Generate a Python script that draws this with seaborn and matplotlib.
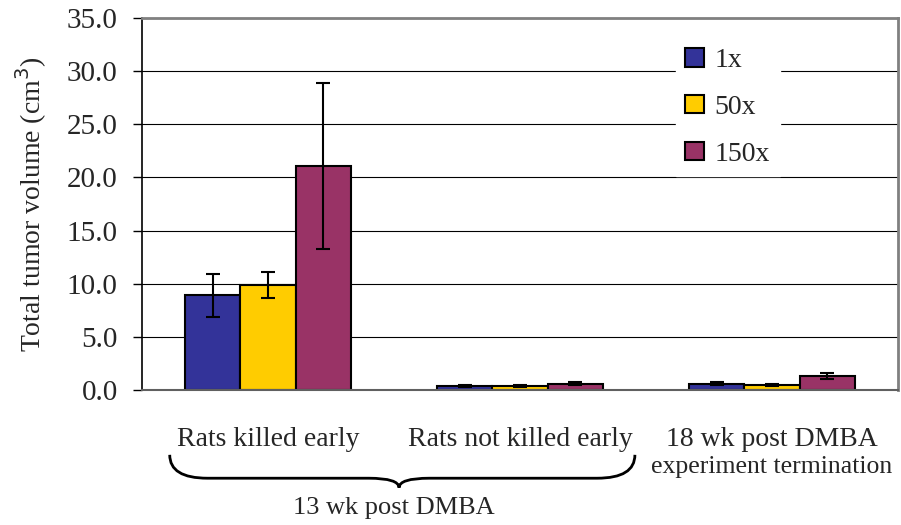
import matplotlib
matplotlib.use("Agg")
import matplotlib.pyplot as plt
import seaborn as sns
import pandas as pd
import numpy as np
from matplotlib.path import Path
from matplotlib.patches import PathPatch

categories = ["Rats killed early", "Rats not killed early", "18 wk post DMBA"]
doses = ["1x", "50x", "150x"]
vol_1x = [8.9, 0.4, 0.6]
vol_50x = [9.9, 0.4, 0.5]
vol_150x = [21.1, 0.6, 1.3]
err_1x = [2.0, 0.1, 0.15]
err_50x = [1.2, 0.1, 0.1]
err_150x = [7.8, 0.15, 0.3]
colors = ["#333399", "#FFCC00", "#993366"]

rows = []
for d, vals, errs in zip(doses, [vol_1x, vol_50x, vol_150x], [err_1x, err_50x, err_150x]):
    for c, v, e in zip(categories, vals, errs):
        rows.append({"group": c, "dose": d, "volume": v, "err": e})
df = pd.DataFrame(rows)

sns.set_theme(style="white")
plt.rcParams["font.family"] = ["Liberation Serif", "DejaVu Serif"]

fig = plt.figure(figsize=(9.01, 5.25), dpi=100)
ax = fig.add_axes([142/901, 1-390/525, (898-142)/901, (390-18)/525])

sns.barplot(data=df, x="group", y="volume", hue="dose", order=categories,
            hue_order=doses, palette=colors, errorbar=None, width=0.66,
            edgecolor="black", linewidth=1.5, ax=ax, saturation=1)

for cont, d in zip(ax.containers, doses):
    sub = df[df.dose == d].set_index("group").loc[categories]
    xs = [p.get_x() + p.get_width()/2 for p in cont.patches]
    ax.errorbar(xs, sub["volume"].values, yerr=sub["err"].values, fmt="none",
                ecolor="black", elinewidth=1.5, capsize=5, capthick=1.5, zorder=5)

ax.set_ylim(0, 35)
ax.set_xlim(-0.5, 2.5)
ax.set_yticks(np.arange(0, 35.1, 5))
ax.set_yticklabels([f"{v:.1f}" for v in np.arange(0, 35.1, 5)], fontsize=21)
ax.yaxis.grid(True, color="black", linewidth=0.8)
ax.set_axisbelow(True)
ax.tick_params(axis="y", length=6.5, width=1, left=True, color="black",
               direction="out", pad=11)
ax.set_xticks([])
ax.set_xlabel("")
ax.set_ylabel("Total tumor volume (cm$^3$)", fontsize=20, labelpad=13)

ax.text(0, -4.7, categories[0], ha="center", va="center", fontsize=20, clip_on=False)
ax.text(1, -4.7, categories[1], ha="center", va="center", fontsize=20, clip_on=False)
ax.text(2, -4.7, categories[2], ha="center", va="center", fontsize=20, clip_on=False)
ax.text(2, -7.25, "experiment termination", ha="center", va="center",
        fontsize=18.5, clip_on=False)

ax.spines["top"].set_color("#808080")
ax.spines["top"].set_linewidth(2)
ax.spines["right"].set_color("#808080")
ax.spines["right"].set_linewidth(2)
ax.spines["left"].set_color("black")
ax.spines["left"].set_linewidth(1.2)
ax.spines["bottom"].set_color("#606060")
ax.spines["bottom"].set_linewidth(1.5)

# brace under first two groups
x0, x1 = -0.39, 1.456
xm = 0.52
yt, ym, yb = -6.1, -8.3, -9.2
verts = [(x0, yt), (x0, ym), (x0 + 0.15, ym), (xm - 0.12, ym),
         (xm, ym), (xm, yb), (xm, yb),
         (xm, yb), (xm, ym), (xm + 0.12, ym),
         (x1 - 0.15, ym), (x1, ym), (x1, yt)]
codes = [Path.MOVETO, Path.CURVE3, Path.CURVE3, Path.LINETO,
         Path.CURVE3, Path.CURVE3, Path.LINETO,
         Path.MOVETO, Path.CURVE3, Path.CURVE3,
         Path.LINETO, Path.CURVE3, Path.CURVE3]
ax.add_patch(PathPatch(Path(verts, codes), fill=False, lw=2, color="black",
                       clip_on=False, transform=ax.transData))
ax.text(xm - 0.02, -11.1, "13 wk post DMBA", ha="center", va="center", fontsize=19,
        clip_on=False)

handles, labels = ax.get_legend_handles_labels()
leg = ax.legend(handles, labels, loc="upper left", bbox_to_anchor=(0.706, 0.945),
                borderaxespad=0, frameon=True, fontsize=20, handlelength=0.65,
                handleheight=0.65, labelspacing=0.78, borderpad=0.35,
                handletextpad=0.4)
leg.get_frame().set_facecolor("white")
leg.get_frame().set_edgecolor("white")
leg.get_frame().set_alpha(1)
leg.get_frame().set_boxstyle("square", pad=0)

fig.savefig("out.png", dpi=100)
